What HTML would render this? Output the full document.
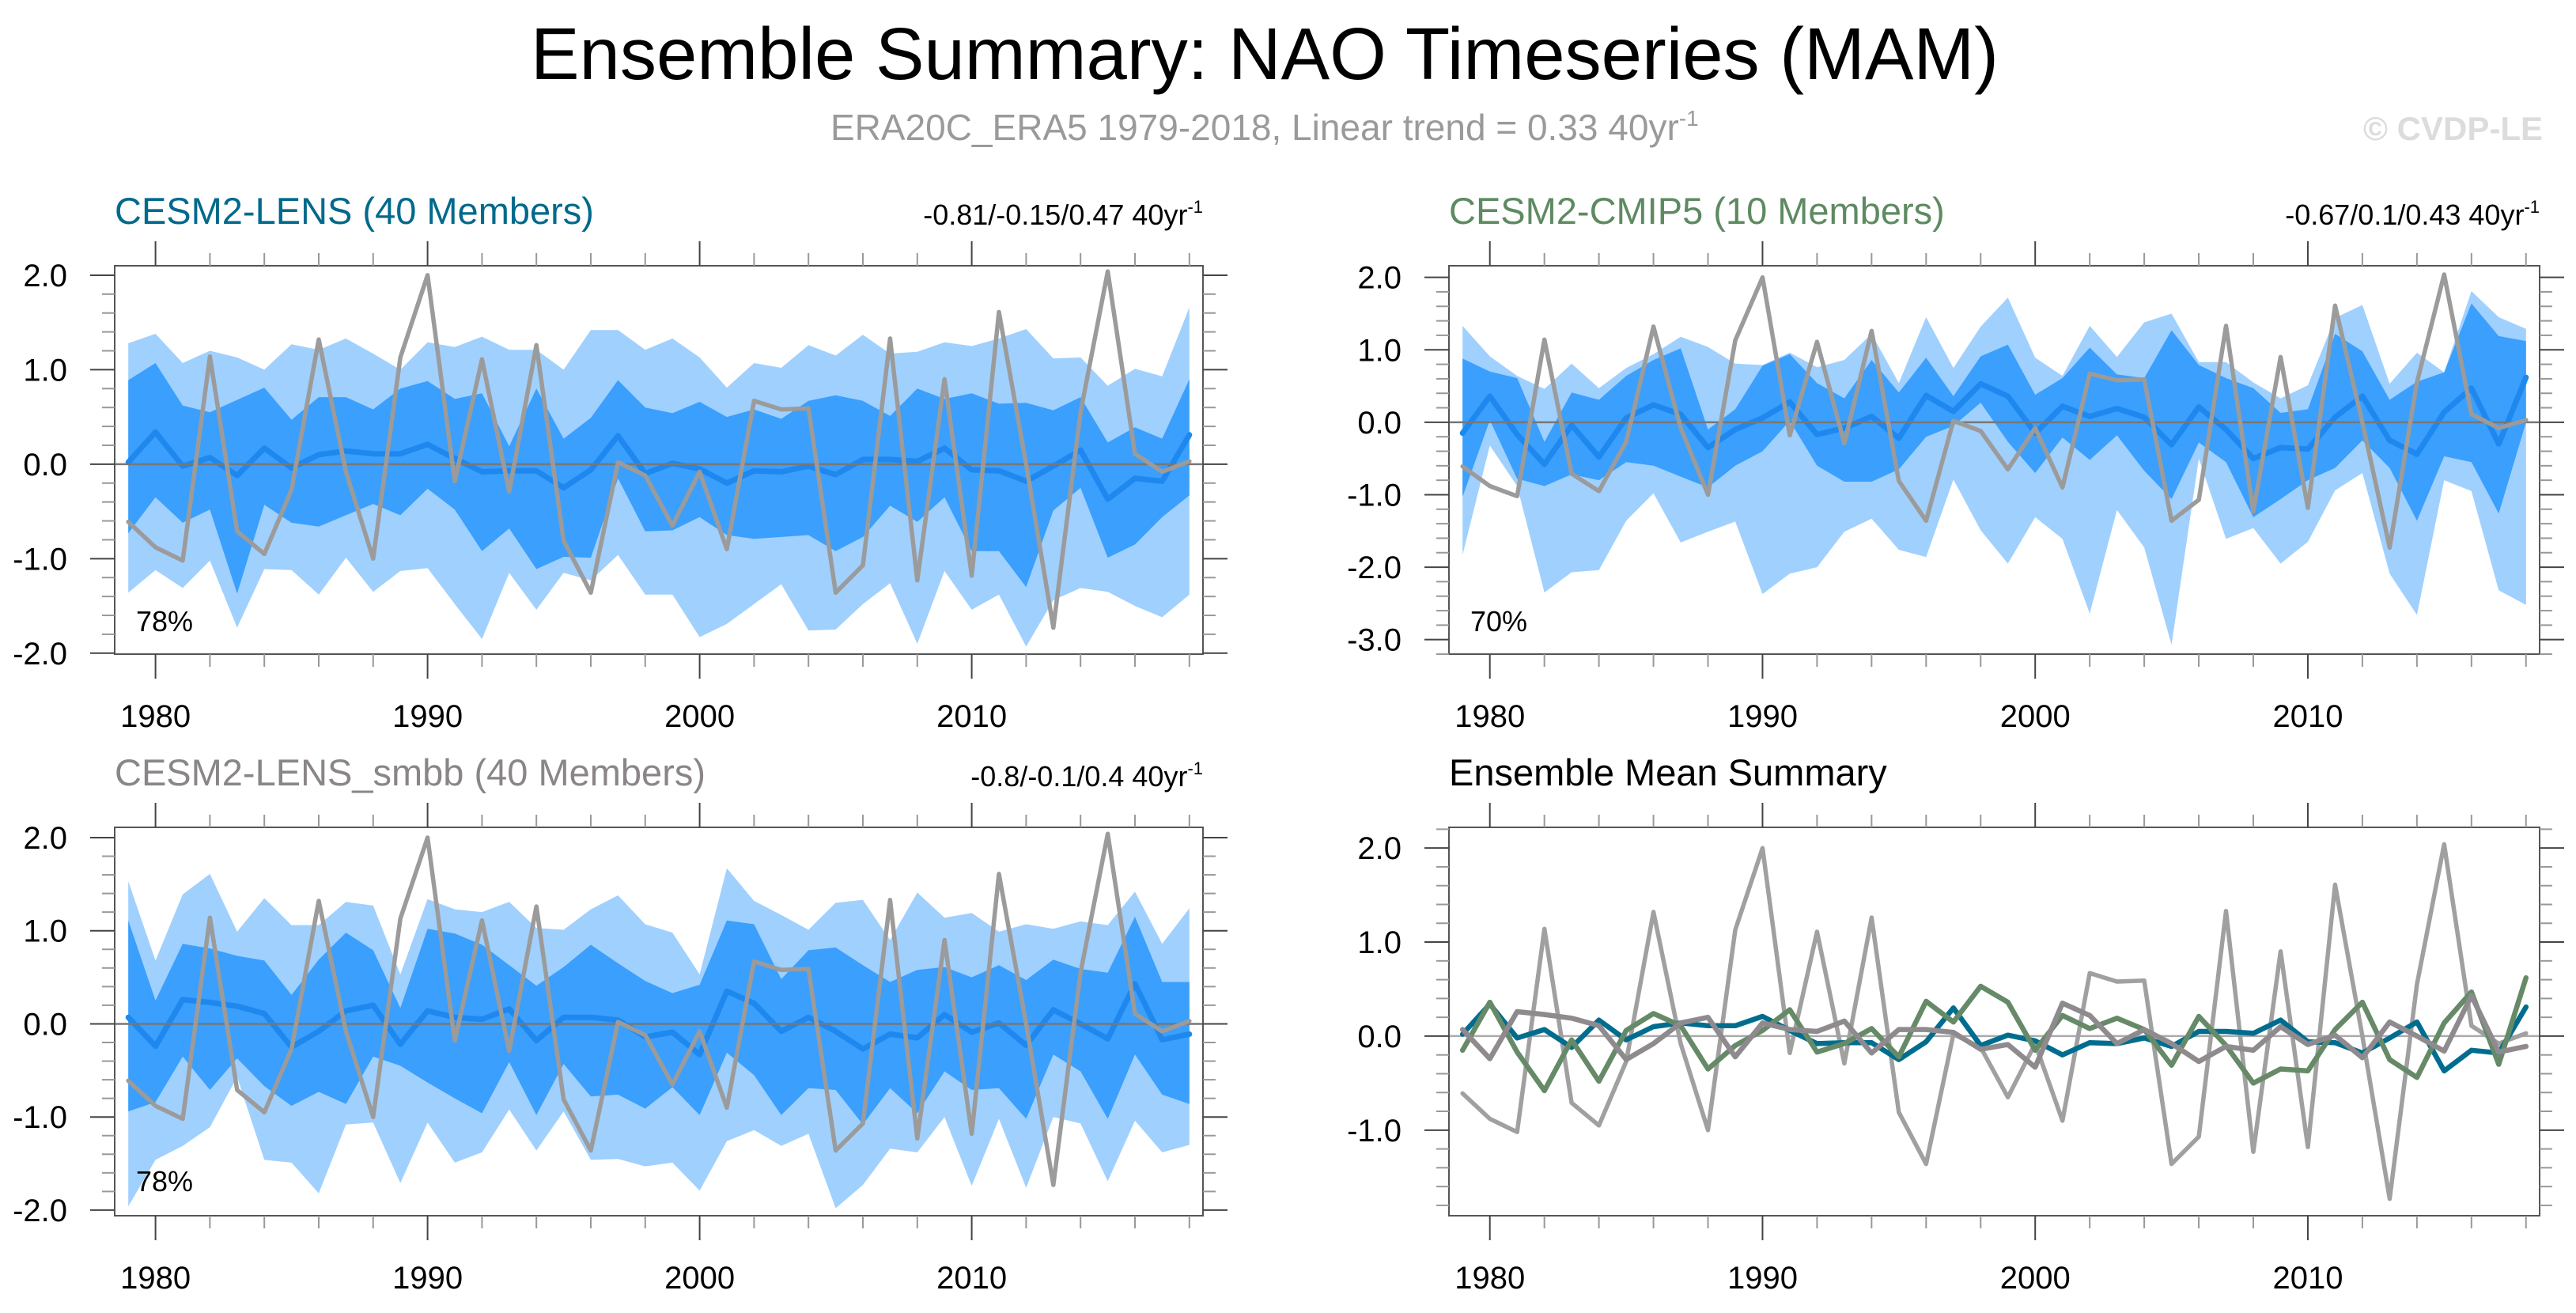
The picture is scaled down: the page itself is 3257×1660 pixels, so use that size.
<!DOCTYPE html>
<html><head><meta charset="utf-8"><style>
html,body{margin:0;padding:0;background:#fff;}
svg{display:block;font-family:"Liberation Sans",sans-serif;}
</style></head><body>
<svg id="fig" width="3257" height="1660" viewBox="0 0 3257 1660" xmlns="http://www.w3.org/2000/svg">
<text x="1599" y="100" font-size="93" text-anchor="middle" textLength="1856" lengthAdjust="spacingAndGlyphs">Ensemble Summary: NAO Timeseries (MAM)</text>
<text x="1050" y="177" font-size="46" fill="#9a9a9a">ERA20C_ERA5 1979-2018, Linear trend = 0.33 40yr<tspan dy="-18" font-size="28">-1</tspan></text>
<text x="3215" y="177" font-size="42" font-weight="bold" fill="#dcdcdc" text-anchor="end">© CVDP-LE</text>
</svg>
<script>
const years = [];
for (let y = 1979; y <= 2018; y++) years.push(y);
const obs = [-0.61,-0.88,-1.02,1.14,-0.71,-0.95,-0.27,1.32,-0.08,-1.0,1.13,2.0,-0.18,1.11,-0.29,1.26,-0.81,-1.36,0.02,-0.12,-0.65,-0.08,-0.9,0.67,0.58,0.59,-1.36,-1.07,1.33,-1.23,0.9,-1.18,1.61,0.0,-1.73,0.55,2.04,0.11,-0.08,0.03];
const lensMean = [0.02,0.34,-0.02,0.07,-0.12,0.17,-0.04,0.1,0.14,0.11,0.11,0.21,0.06,-0.08,-0.07,-0.07,-0.25,-0.06,0.3,-0.1,0.01,-0.05,-0.2,-0.07,-0.08,-0.02,-0.11,0.05,0.05,0.03,0.17,-0.06,-0.07,-0.18,-0.02,0.15,-0.37,-0.15,-0.18,0.31];
const lensDarkHi = [0.89,1.07,0.62,0.55,0.68,0.81,0.47,0.71,0.71,0.58,0.8,0.88,0.69,0.75,0.19,0.8,0.27,0.49,0.89,0.6,0.54,0.66,0.5,0.58,0.48,0.67,0.73,0.67,0.51,0.8,0.69,0.75,0.64,0.65,0.57,0.71,0.23,0.39,0.27,0.9];
const lensDarkLo = [-0.73,-0.35,-0.62,-0.48,-1.37,-0.43,-0.62,-0.66,-0.54,-0.42,-0.54,-0.26,-0.48,-0.92,-0.68,-1.11,-0.98,-0.99,-0.15,-0.71,-0.7,-0.56,-0.75,-0.79,-0.77,-0.75,-0.92,-0.77,-0.44,-0.61,-0.35,-0.92,-0.92,-1.3,-0.49,-0.25,-0.99,-0.85,-0.56,-0.33];
const lensLightHi = [1.28,1.38,1.07,1.2,1.13,1.0,1.27,1.21,1.33,1.17,1.0,1.29,1.24,1.35,1.21,1.21,1.0,1.42,1.42,1.21,1.33,1.13,0.81,1.07,1.02,1.26,1.15,1.37,1.17,1.19,1.29,1.25,1.33,1.43,1.12,1.13,0.83,1.01,0.93,1.66];
const lensLightLo = [-1.36,-1.12,-1.31,-1.02,-1.73,-1.11,-1.12,-1.38,-0.99,-1.35,-1.13,-1.1,-1.48,-1.85,-1.15,-1.54,-1.15,-1.23,-0.96,-1.38,-1.38,-1.83,-1.69,-1.48,-1.27,-1.76,-1.75,-1.48,-1.26,-1.9,-1.13,-1.54,-1.38,-1.93,-1.44,-1.31,-1.35,-1.5,-1.62,-1.38];
const cmipMean = [-0.15,0.36,-0.17,-0.58,-0.04,-0.48,0.06,0.24,0.11,-0.35,-0.1,0.06,0.28,-0.17,-0.08,0.08,-0.22,0.37,0.15,0.53,0.36,-0.15,0.22,0.08,0.19,0.07,-0.31,0.21,-0.1,-0.5,-0.35,-0.37,0.07,0.36,-0.25,-0.44,0.14,0.47,-0.3,0.62];
const cmipDarkHi = [0.88,0.7,0.61,-0.27,0.41,0.31,0.64,0.86,1.02,-0.1,0.18,0.78,0.94,0.54,0.33,0.86,0.41,0.89,0.36,0.91,1.07,0.38,0.61,1.03,0.66,0.61,1.27,0.79,0.61,0.47,0.13,0.18,1.22,0.98,0.31,0.56,0.69,1.64,1.19,1.12];
const cmipDarkLo = [-1.03,0.03,-0.78,-0.88,-0.72,-0.8,-0.55,-0.6,-0.75,-0.9,-0.6,-0.4,0.02,-0.6,-0.82,-0.82,-0.65,-0.2,-0.05,0.27,-0.27,-0.7,-0.21,-0.52,-0.18,-0.67,-1.06,-0.28,-0.55,-1.31,-1.06,-0.8,-0.63,-0.25,-0.63,-1.36,-0.47,-0.55,-1.26,0.0];
const cmipLightHi = [1.33,0.91,0.64,0.46,0.81,0.47,0.75,0.94,1.18,1.04,0.81,0.79,0.96,0.76,0.86,1.22,0.54,1.45,0.75,1.32,1.72,0.89,0.64,1.33,0.9,1.38,1.5,0.83,0.83,0.55,0.33,0.51,1.44,1.62,0.53,0.96,0.69,1.81,1.45,1.29];
const cmipLightLo = [-1.83,-0.32,-0.88,-2.35,-2.07,-2.04,-1.36,-0.98,-1.66,-1.51,-1.37,-2.37,-2.09,-2.0,-1.51,-1.33,-1.76,-1.86,-0.79,-1.49,-1.95,-1.31,-1.61,-2.64,-1.21,-1.73,-3.07,-0.5,-1.61,-1.46,-1.95,-1.65,-0.94,-0.7,-2.09,-2.66,-0.8,-0.95,-2.32,-2.52];
const smbbMean = [0.07,-0.24,0.26,0.23,0.19,0.11,-0.25,-0.08,0.14,0.2,-0.22,0.14,0.07,0.05,0.16,-0.18,0.07,0.07,0.04,-0.14,-0.09,-0.33,0.35,0.22,-0.08,0.07,-0.08,-0.27,-0.11,-0.15,0.1,-0.09,0.01,-0.23,0.15,0.0,-0.16,0.43,-0.17,-0.11];
const smbbDarkHi = [1.11,0.25,0.86,0.81,0.73,0.68,0.31,0.69,0.98,0.79,0.17,1.02,0.97,0.85,0.63,0.41,0.61,0.85,0.65,0.46,0.33,0.42,1.11,1.07,0.48,0.79,0.82,0.63,0.45,0.58,0.61,0.5,0.63,0.47,0.69,0.59,0.55,1.15,0.45,0.45];
const smbbDarkLo = [-0.94,-0.84,-0.35,-0.71,-0.37,-0.67,-0.88,-0.73,-0.86,-0.35,-0.45,-0.63,-0.8,-0.96,-0.41,-0.98,-0.43,-0.78,-0.76,-0.91,-0.68,-0.98,-0.31,-0.55,-0.98,-0.69,-0.71,-1.08,-0.69,-0.96,-0.51,-0.71,-0.69,-1.02,-0.33,-0.51,-1.02,-0.33,-0.76,-0.86];
const smbbLightHi = [1.53,0.68,1.39,1.61,0.99,1.35,1.06,1.06,1.31,1.27,0.53,1.34,1.23,1.2,1.31,1.03,1.01,1.23,1.38,1.07,0.98,0.53,1.67,1.32,1.17,1.01,1.3,1.33,0.9,1.41,1.14,1.19,0.99,1.07,1.02,1.1,1.06,1.42,0.86,1.24];
const smbbLightLo = [-1.96,-1.46,-1.31,-1.11,-0.57,-1.46,-1.49,-1.82,-1.08,-1.06,-1.71,-1.06,-1.49,-1.38,-0.92,-1.36,-0.94,-1.46,-1.45,-1.53,-1.49,-1.79,-1.26,-1.14,-1.31,-1.18,-1.98,-1.73,-1.34,-1.38,-1.0,-1.74,-1.02,-1.76,-1.0,-1.07,-1.69,-1.04,-1.38,-1.3];
const xTickLabels = [1980,1990,2000,2010];

const NS = "http://www.w3.org/2000/svg";
const svg = document.getElementById('fig');
function mk(tag, attrs, parent){
  const e = document.createElementNS(NS, tag);
  for (const k in attrs) e.setAttribute(k, attrs[k]);
  (parent||svg).appendChild(e);
  return e;
}
function panel(cfg){
  const g = mk('g', {});
  
  
  const {L,R,T,B,ymin,ymax} = cfg;
  const xs = v => L + (v - 1978.5) / 40 * (R - L);
  const ys = v => B - (v - ymin) / (ymax - ymin) * (B - T);
  const clip = 'clip-' + cfg.name;
  const cp = mk('clipPath', {id: clip}, g);
  mk('rect', {x:L, y:T, width:R-L, height:B-T}, cp);
  const inner = mk('g', {'clip-path':'url(#'+clip+')'}, g);
  function band(hi, lo, fill, nm){
    let d = '';
    years.forEach((yr,i)=>{ d += (i?'L':'M') + xs(yr).toFixed(1) + ' ' + ys(hi[i]).toFixed(1); });
    for (let i = years.length-1; i >= 0; i--) d += 'L' + xs(years[i]).toFixed(1) + ' ' + ys(lo[i]).toFixed(1);
    const p = mk('path', {d: d+'Z', fill: fill}, inner);
    
    
  }
  function line(vals, color, w, nm){
    const pts = years.map((yr,i)=> xs(yr).toFixed(1)+','+ys(vals[i]).toFixed(1)).join(' ');
    const p = mk('polyline', {points: pts, fill:'none', stroke: color, 'stroke-width': w, 'stroke-linejoin':'round', 'stroke-linecap':'round'}, inner);
    
    
  }
  if (cfg.bands){
    band(cfg.bands.lh, cfg.bands.ll, '#a0d0fe', 'light-band-95pct');
    band(cfg.bands.dh, cfg.bands.dl, '#3a9ffd', 'dark-band-iqr');
    line(cfg.bands.mean, '#1e88ef', 7, 'ensemble-mean-line');
    const z = mk('line', {x1:L, x2:R, y1:ys(0), y2:ys(0), stroke:'#777', 'stroke-width':2.5}, inner);
    
    
    line(obs, '#9b9b9b', 5.5, 'observed-line');
  } else {
    const z = mk('line', {x1:L, x2:R, y1:ys(0), y2:ys(0), stroke:'#aaa', 'stroke-width':2.5}, inner);
    
    
    line(obs, '#a0a0a0', 5.5, 'observed-line');
    line(lensMean, '#006d8f', 6.5, 'cesm2-lens-mean-line');
    line(cmipMean, '#668a68', 6.5, 'cesm2-cmip5-mean-line');
    line(smbbMean, '#8e8a8e', 6.5, 'cesm2-lens-smbb-mean-line');
  }
  const fr = mk('rect', {x:L, y:T, width:R-L, height:B-T, fill:'none', stroke:'#555', 'stroke-width':2}, g);
  
  
  for (let yr = 1980; yr <= 2018; yr += 2){
    const major = yr % 10 === 0;
    const len = major ? 31 : 16;
    const x = xs(yr);
    mk('line', {x1:x, x2:x, y1:T, y2:T-len, stroke: major?'#444':'#999', 'stroke-width':2}, g);
    mk('line', {x1:x, x2:x, y1:B, y2:B+len, stroke: major?'#444':'#999', 'stroke-width':2}, g);
  }
  xTickLabels.forEach(v=>{
    const t = mk('text', {x: xs(v), y: B+92, 'font-size':40, 'text-anchor':'middle'}, g);
    t.textContent = v;
    
    
  });
  const start = Math.ceil(ymin*5-1e-6), end = Math.floor(ymax*5+1e-6);
  for (let k = start; k <= end; k++){
    const v = k/5, major = k % 5 === 0, len = major ? 31 : 16, y = ys(v);
    mk('line', {x1:L, x2:L-len, y1:y, y2:y, stroke: major?'#444':'#999', 'stroke-width':2}, g);
    mk('line', {x1:R, x2:R+len, y1:y, y2:y, stroke: major?'#444':'#999', 'stroke-width':2}, g);
    if (major){
      const t = mk('text', {x: L-60, y: y+14, 'font-size':40, 'text-anchor':'end'}, g);
      t.textContent = v.toFixed(1);
      
      
    }
  }
  const ti = mk('text', {x:L, y:T-53, 'font-size':47, fill: cfg.titleColor}, g);
  ti.textContent = cfg.title;
  
  
  if (cfg.trend){
    const tr = mk('text', {x:R, y:T-52, 'font-size':36, 'text-anchor':'end'}, g);
    
    
    tr.appendChild(document.createTextNode(cfg.trend + ' 40yr'));
    const sp = mk('tspan', {dy:-15, 'font-size':22}, tr);
    sp.textContent = '-1';
  }
  if (cfg.pct){
    const pc = mk('text', {x:L+27, y:cfg.pctY, 'font-size':36}, g);
    pc.textContent = cfg.pct;
    
    
  }
}
panel({name:'cesm2-lens-panel', L:145, R:1521, T:336, B:827, ymin:-2.01, ymax:2.10,
  title:'CESM2-LENS (40 Members)', titleColor:'#00698c', trend:'-0.81/-0.15/0.47', pct:'78%', pctY:798,
  bands:{lh:lensLightHi, ll:lensLightLo, dh:lensDarkHi, dl:lensDarkLo, mean:lensMean}});
panel({name:'cesm2-cmip5-panel', L:1832, R:3211, T:336, B:827, ymin:-3.2, ymax:2.16,
  title:'CESM2-CMIP5 (10 Members)', titleColor:'#5e8a62', trend:'-0.67/0.1/0.43', pct:'70%', pctY:798,
  bands:{lh:cmipLightHi, ll:cmipLightLo, dh:cmipDarkHi, dl:cmipDarkLo, mean:cmipMean}});
panel({name:'cesm2-lens-smbb-panel', L:145, R:1521, T:1046, B:1537, ymin:-2.06, ymax:2.11,
  title:'CESM2-LENS_smbb (40 Members)', titleColor:'#8a8589', trend:'-0.8/-0.1/0.4', pct:'78%', pctY:1506,
  bands:{lh:smbbLightHi, ll:smbbLightLo, dh:smbbDarkHi, dl:smbbDarkLo, mean:smbbMean}});
panel({name:'ensemble-mean-summary-panel', L:1832, R:3211, T:1046, B:1537, ymin:-1.91, ymax:2.22,
  title:'Ensemble Mean Summary', titleColor:'#000'});
</script>
</body></html>
